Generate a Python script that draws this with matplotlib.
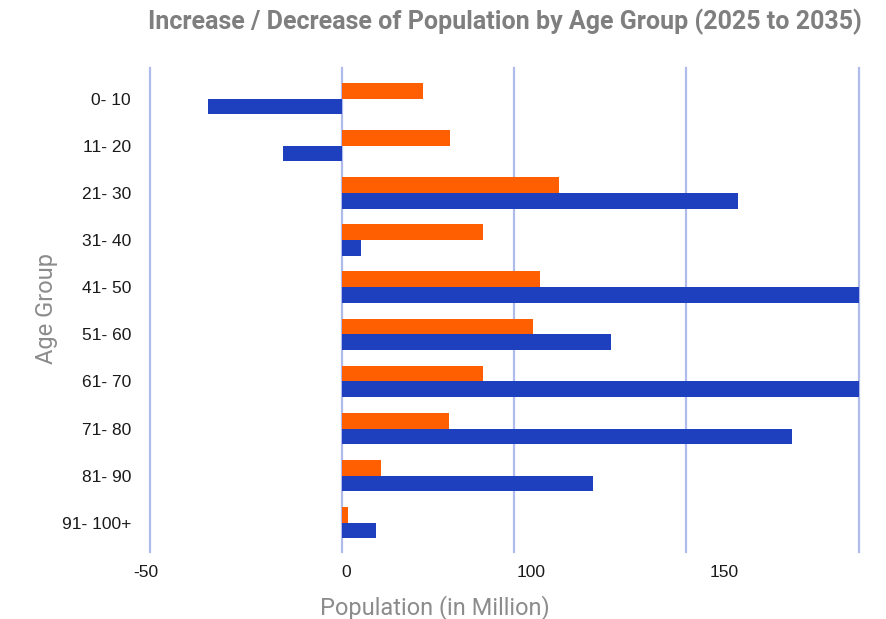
import matplotlib
matplotlib.use("Agg")
import matplotlib.pyplot as plt
import numpy as np

# Change in population per age group, in millions
age_groups = ["0- 10", "11- 20", "21- 30", "31- 40", "41- 50",
              "51- 60", "61- 70", "71- 80", "81- 90", "91- 100+"]
series_orange = [23.5, 31.5, 63, 41, 57.5, 55.5, 41, 31, 11.3, 1.8]
series_blue = [-39, -17, 115, 5.5, 151, 78, 151, 130.5, 72.8, 9.9]

tick_labels = ["-50", "0", "100", "150"]

ORANGE = "#FF5F00"
BLUE = "#1E40BF"
GRID = "#AFBCEB"

fig = plt.figure(figsize=(8.86, 6.19), dpi=100)
ax = fig.add_axes([0.1650, 0.1082, 0.8046, 0.782])

y = np.arange(len(age_groups))
h = 0.333
ax.barh(y - h / 2, series_orange, height=h, color=ORANGE, zorder=3)
ax.barh(y + h / 2, series_blue, height=h, color=BLUE, zorder=3)

ax.set_xlim(-55.6, 150.1)
ax.set_ylim(len(age_groups) - 0.38, -0.65)

# vertical gridlines
for gx in [-55.6, 0, 50, 100, 150]:
    ax.axvline(gx, color=GRID, lw=1.6, zorder=1, clip_on=False)

for s in ax.spines.values():
    s.set_visible(False)

ax.set_yticks(y, labels=age_groups)
ax.set_xticks([-56.8, 1.2, 55, 111], labels=tick_labels)
ax.tick_params(length=0, labelsize=12.5, labelcolor="#1a1a1a")
ax.tick_params(axis="y", pad=11)
ax.tick_params(axis="x", pad=9)
for lab in ax.get_xticklabels() + ax.get_yticklabels():
    lab.set_fontfamily("Liberation Sans")

fig.text(0.570, 0.964, "Increase / Decrease of Population by Age Group (2025 to 2035)",
         ha="center", va="center", fontsize=18, fontweight="bold",
         color="#7f7f7f", family="Roboto")
fig.text(0.491, 0.018, "Population (in Million)", ha="center", va="center",
         fontsize=17, color="#8c8c8c", family="Roboto")
fig.text(0.053, 0.502, "Age Group", ha="center", va="center", rotation=90,
         fontsize=17, color="#8c8c8c", family="Roboto")

fig.savefig("out.png", dpi=100)
